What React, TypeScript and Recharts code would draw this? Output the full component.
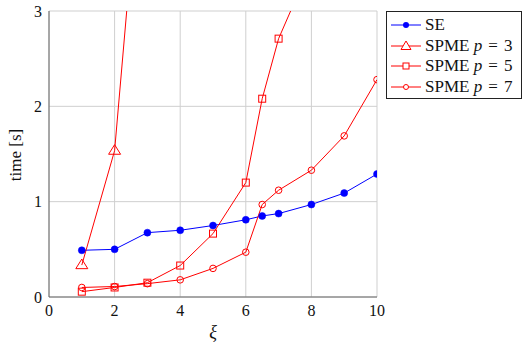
import React from 'react';
import { LineChart, Line, XAxis, YAxis, CartesianGrid } from 'recharts';

const seX = [1, 2, 3, 4, 5, 6, 6.5, 7, 8, 9, 10];
const seY = [0.49, 0.5, 0.675, 0.7, 0.75, 0.81, 0.85, 0.875, 0.97, 1.09, 1.29];
const p3X = [1, 2, 3];
const p3Y = [0.335, 1.535, 5.5];
const p5X = [1, 2, 3, 4, 5, 6, 6.5, 7, 8];
const p5Y = [0.056, 0.1, 0.15, 0.33, 0.665, 1.2, 2.08, 2.71, 3.5];
const p7X = [1, 2, 3, 4, 5, 6, 6.5, 7, 8, 9, 10];
const p7Y = [0.1, 0.11, 0.14, 0.18, 0.3, 0.47, 0.97, 1.12, 1.33, 1.69, 2.28];
const xTicks = [0, 2, 4, 6, 8, 10];
const yTicks = [0, 1, 2, 3];
const seriesNames = ['SE', 'SPME p = 3', 'SPME p = 5', 'SPME p = 7'];

const toData = (xs: number[], ys: number[]) => xs.map((x, i) => ({ x, y: ys[i] }));
const seData = toData(seX, seY);
const p3Data = toData(p3X, p3Y);
const p5Data = toData(p5X, p5Y);
const p7Data = toData(p7X, p7Y);

const FONT = 'Liberation Serif';
const RED = '#ff0000';
const BLUE = '#0000ff';
const TXT = '#111';

const Tri = (props: any) => {
  const { cx, cy } = props;
  if (cx == null || cy == null) return null;
  const s = 6;
  return (
    <polygon
      points={`${cx},${cy - s} ${cx - s},${cy + s * 0.6} ${cx + s},${cy + s * 0.6}`}
      fill="none"
      stroke={RED}
      strokeWidth={1}
    />
  );
};
const Sq = (props: any) => {
  const { cx, cy } = props;
  if (cx == null || cy == null) return null;
  return <rect x={cx - 3.5} y={cy - 3.5} width={7} height={7} fill="none" stroke={RED} strokeWidth={1} />;
};
const Circ = (props: any) => {
  const { cx, cy } = props;
  if (cx == null || cy == null) return null;
  return <circle cx={cx} cy={cy} r={3.3} fill="none" stroke={RED} strokeWidth={1} />;
};
const Dot = (props: any) => {
  const { cx, cy } = props;
  if (cx == null || cy == null) return null;
  return <circle cx={cx} cy={cy} r={3.5} fill={BLUE} stroke={BLUE} strokeWidth={0.5} />;
};

const LegendMarker = ({ i }: { i: number }) => {
  const col = i === 0 ? BLUE : RED;
  const cx = 15;
  const cy = 8;
  let m: React.ReactNode = null;
  if (i === 0) m = <circle cx={cx} cy={cy} r={3} fill={BLUE} />;
  if (i === 1) m = <polygon points={`${cx},${cy - 5} ${cx - 5},${cy + 3.5} ${cx + 5},${cy + 3.5}`} fill="white" stroke={RED} />;
  if (i === 2) m = <rect x={cx - 3} y={cy - 3} width={6} height={6} fill="white" stroke={RED} />;
  if (i === 3) m = <circle cx={cx} cy={cy} r={2.5} fill="white" stroke={RED} />;
  return (
    <svg width={30} height={16} style={{ display: 'block', flex: 'none' }}>
      <line x1={0} y1={cy} x2={30} y2={cy} stroke={col} strokeWidth={1} />
      {m}
    </svg>
  );
};

const renderName = (name: string) => {
  const m = name.match(/^(.*) p = (\d)$/);
  if (!m) return name;
  return (
    <>
      {m[1]} <i>p</i>
      <span style={{ margin: '0 0.36em' }}>=</span>
      {m[2]}
    </>
  );
};

const LegendBox = () => (
  <div
    style={{
      position: 'absolute',
      left: 386,
      top: 11,
      width: 136,
      height: 88,
      boxSizing: 'border-box',
      border: '1px solid #222',
      background: 'white',
      padding: '3px 0 0 4px',
      fontFamily: FONT,
      fontSize: 17,
      color: TXT,
    }}
  >
    {seriesNames.map((n, i) => (
      <div key={n} style={{ display: 'flex', alignItems: 'center', height: 20.6 }}>
        <LegendMarker i={i} />
        <span style={{ marginLeft: 4, whiteSpace: 'nowrap' }}>{renderName(n)}</span>
      </div>
    ))}
  </div>
);

export default function App() {
  return (
    <div style={{ position: 'absolute', left: 0, top: 0, width: 523, height: 348 }}>
      <LineChart
        width={523}
        height={348}
        margin={{ top: 11, right: 146, left: 19, bottom: 31 }}
        style={{ fontFamily: FONT }}
      >
        <CartesianGrid stroke="#cfcfcf" strokeWidth={1} />
        <XAxis
          type="number"
          dataKey="x"
          domain={[0, 10]}
          ticks={xTicks}
          allowDataOverflow
          height={20}
          tickLine={false}
          tickSize={0}
          tickMargin={8}
          axisLine={{ stroke: '#666', strokeWidth: 1 }}
          tick={{ fill: TXT, fontSize: 16, fontFamily: FONT }}
          label={{
            content: ({ viewBox }: any) => (
              <text
                x={viewBox.x + viewBox.width / 2}
                y={338}
                textAnchor="middle"
                fontFamily={FONT}
                fontSize={18}
                fontStyle="italic"
                fill={TXT}
              >
                ξ
              </text>
            ),
          }}
        />
        <YAxis
          type="number"
          domain={[0, 3]}
          ticks={yTicks}
          allowDataOverflow
          width={30}
          tickLine={false}
          tickSize={0}
          tickMargin={7}
          axisLine={{ stroke: '#666', strokeWidth: 1 }}
          tick={{ fill: TXT, fontSize: 16, fontFamily: FONT }}
          label={{
            content: ({ viewBox }: any) => {
              const x = 21;
              const y = viewBox.y + viewBox.height / 2 + 1;
              return (
                <text
                  x={x}
                  y={y}
                  transform={`rotate(-90 ${x} ${y})`}
                  textAnchor="middle"
                  fontFamily={FONT}
                  fontSize={17}
                  fill={TXT}
                >
                  time [s]
                </text>
              );
            },
          }}
        />
        <Line data={seData} dataKey="y" name="SE" stroke={BLUE} strokeWidth={1} dot={<Dot />} isAnimationActive={false} />
        <Line data={p3Data} dataKey="y" name="SPME p = 3" stroke={RED} strokeWidth={1} dot={<Tri />} isAnimationActive={false} />
        <Line data={p5Data} dataKey="y" name="SPME p = 5" stroke={RED} strokeWidth={1} dot={<Sq />} isAnimationActive={false} />
        <Line data={p7Data} dataKey="y" name="SPME p = 7" stroke={RED} strokeWidth={1} dot={<Circ />} isAnimationActive={false} />
      </LineChart>
      <LegendBox />
    </div>
  );
}
